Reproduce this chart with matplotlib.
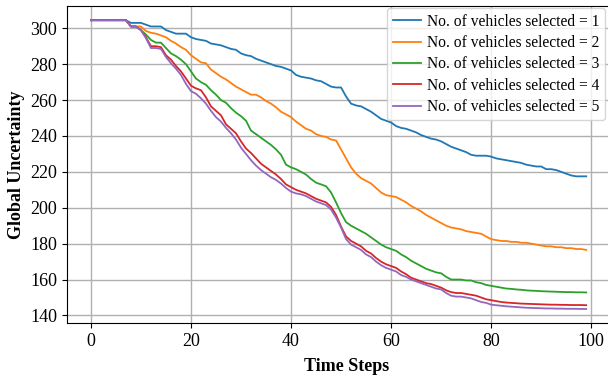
import numpy as np
import matplotlib
matplotlib.use("Agg")
import matplotlib.pyplot as plt

# time steps
steps = np.arange(100)

# global uncertainty per number of selected vehicles
k1 = [304.5, 304.5, 304.5, 304.5, 304.5, 304.5, 304.5, 304.5, 303, 303,
      303, 302, 301, 301, 301, 299, 298, 297, 297, 297,
      295, 294, 293.5, 293, 291.5, 291, 290.5, 289.5, 288.5, 288,
      286, 285, 284.5, 283, 282, 281, 280, 279, 278.5, 277.5,
      276.5, 274, 273, 272.5, 272, 271, 270.5, 269, 267.5, 267,
      267, 262, 258, 257, 256.5, 255, 253.5, 251.5, 249.5, 248.5,
      247.5, 245.5, 244.5, 244, 243, 242, 240.5, 239.5, 238.5, 238,
      237, 235.5, 234, 233, 232, 231, 229.5, 229, 229, 229,
      228.5, 227.5, 227, 226.5, 226, 225.5, 225, 224, 223.5, 223,
      223, 221.5, 221.5, 221, 220, 219, 218, 217.5, 217.5, 217.5]
k2 = [304.5, 304.5, 304.5, 304.5, 304.5, 304.5, 304.5, 304.5, 301, 301,
      301, 298.5, 297.5, 297, 296, 295, 293, 291.5, 289.5, 288,
      285, 283, 281, 280.5, 277, 275, 273, 271.5, 269.5, 267.5,
      266, 264.5, 263, 263, 261.5, 259.5, 258, 256, 253.5, 252,
      250.5, 248, 246, 244, 243, 241, 240, 239.5, 238, 237.5,
      232.5, 227.5, 222.5, 219, 216.5, 215, 213.5, 211, 208.5, 207,
      206.5, 206, 204.5, 203, 201, 199.5, 198, 196, 194.5, 193,
      191.5, 190, 189, 188.5, 188, 187, 186.5, 186, 185.5, 184,
      182.5, 182, 181.5, 181.5, 181, 181, 180.5, 180.5, 180, 179.5,
      179, 178.5, 178.5, 178, 178, 177.5, 177.5, 177, 177, 176.5]
k3 = [304.5, 304.5, 304.5, 304.5, 304.5, 304.5, 304.5, 304.5, 301, 301,
      299, 296.5, 293.5, 292, 292, 289, 286, 284.5, 282.5, 280,
      276, 272, 270, 268.5, 265.5, 263, 260, 258.5, 255.5, 253,
      251, 248.5, 243, 241, 239, 237, 235, 232.5, 229.5, 224,
      222.5, 221.5, 220, 218.5, 216, 214, 213, 212, 208.5, 203,
      197, 192, 190, 188.5, 187, 185.5, 183.5, 181.5, 179.5, 178,
      177, 176, 174, 172.5, 170.5, 169, 167.5, 166, 165, 164,
      163.5, 161.5, 160, 160, 160, 159.5, 159.5, 158.5, 158, 157,
      156.5, 156, 155.5, 155, 154.8, 154.5, 154.3, 154, 153.8, 153.7,
      153.5, 153.4, 153.3, 153.2, 153.1, 153, 153, 152.9, 152.9, 152.8]
k4 = [304.5, 304.5, 304.5, 304.5, 304.5, 304.5, 304.5, 304.5, 301, 301,
      299, 295, 290, 290, 289.5, 285, 282.5, 279, 276, 272,
      268, 266.5, 265.5, 261.5, 256.5, 254, 251.5, 246.5, 244, 241.5,
      237, 233, 230.5, 227.5, 224.5, 222.5, 220.5, 218.5, 216, 213,
      211.5, 210, 209, 208, 206.5, 205, 204, 203, 200.5, 196,
      189.5, 184, 181.5, 180, 178.5, 176, 174.5, 172, 170, 168.5,
      167.5, 166.5, 164.5, 163, 161, 160, 159, 158, 157.5, 156.5,
      155.5, 154, 153, 152.5, 152.5, 152, 151.5, 151, 150, 149,
      148.5, 148, 147.5, 147.2, 147, 146.8, 146.6, 146.5, 146.4, 146.3,
      146.2, 146.1, 146, 146, 145.9, 145.9, 145.8, 145.8, 145.8, 145.7]
k5 = [304.5, 304.5, 304.5, 304.5, 304.5, 304.5, 304.5, 304.5, 301, 301,
      299, 294.5, 289, 289, 288.5, 284, 280.5, 277.5, 274, 269,
      265, 263.5, 261, 258, 254, 250.5, 248, 244.5, 241.5, 238,
      233.5, 230, 226.5, 223.5, 221, 219, 217, 215.5, 213.5, 211,
      209, 208, 207.5, 206.5, 205, 203.5, 202.5, 201.5, 199, 194.5,
      189, 182.5, 179.5, 178, 176.5, 174, 172.5, 170, 168, 166.5,
      165.5, 164.5, 162.5, 161.5, 160, 159, 158, 157, 156, 155,
      154.5, 152.5, 151, 150.5, 150.5, 150, 149.5, 148.5, 147.5, 147,
      146, 145.7, 145.4, 145.1, 144.9, 144.7, 144.5, 144.3, 144.2, 144.1,
      144, 143.9, 143.9, 143.8, 143.8, 143.7, 143.7, 143.7, 143.6, 143.6]

series = [k1, k2, k3, k4, k5]
labels = ["No. of vehicles selected = %d" % n for n in range(1, 6)]

plt.rcParams["font.family"] = ["Liberation Serif", "DejaVu Serif"]

fig = plt.figure(figsize=(6.08, 3.76), dpi=100)
# axes run past the right edge (right spine cropped off as in the reference)
ax = fig.add_axes([0.110, 0.141, 0.92, 0.843])

for ys, lab in zip(series, labels):
    ax.plot(steps, ys, linewidth=1.3, label=lab)

ax.set_xlim(-4.8, 107.0)
ax.set_ylim(135.8, 312.4)
ax.set_xticks([0, 20, 40, 60, 80, 100])
ax.set_yticks([140, 160, 180, 200, 220, 240, 260, 280, 300])
ax.tick_params(labelsize=13)
ax.set_xlabel("Time Steps", fontsize=13, fontweight="bold", labelpad=6)
ax.set_ylabel("Global Uncertainty", fontsize=13, fontweight="bold")
ax.grid(True, color="#b0b0b0", linewidth=1.0)
ax.legend(loc="upper right", bbox_to_anchor=(0.966, 1.0), fontsize=11.2,
          handlelength=1.8, borderpad=0.35, labelspacing=0.34,
          handletextpad=0.4, borderaxespad=0.15)

fig.savefig("out.png", dpi=100)
plt.close(fig)
